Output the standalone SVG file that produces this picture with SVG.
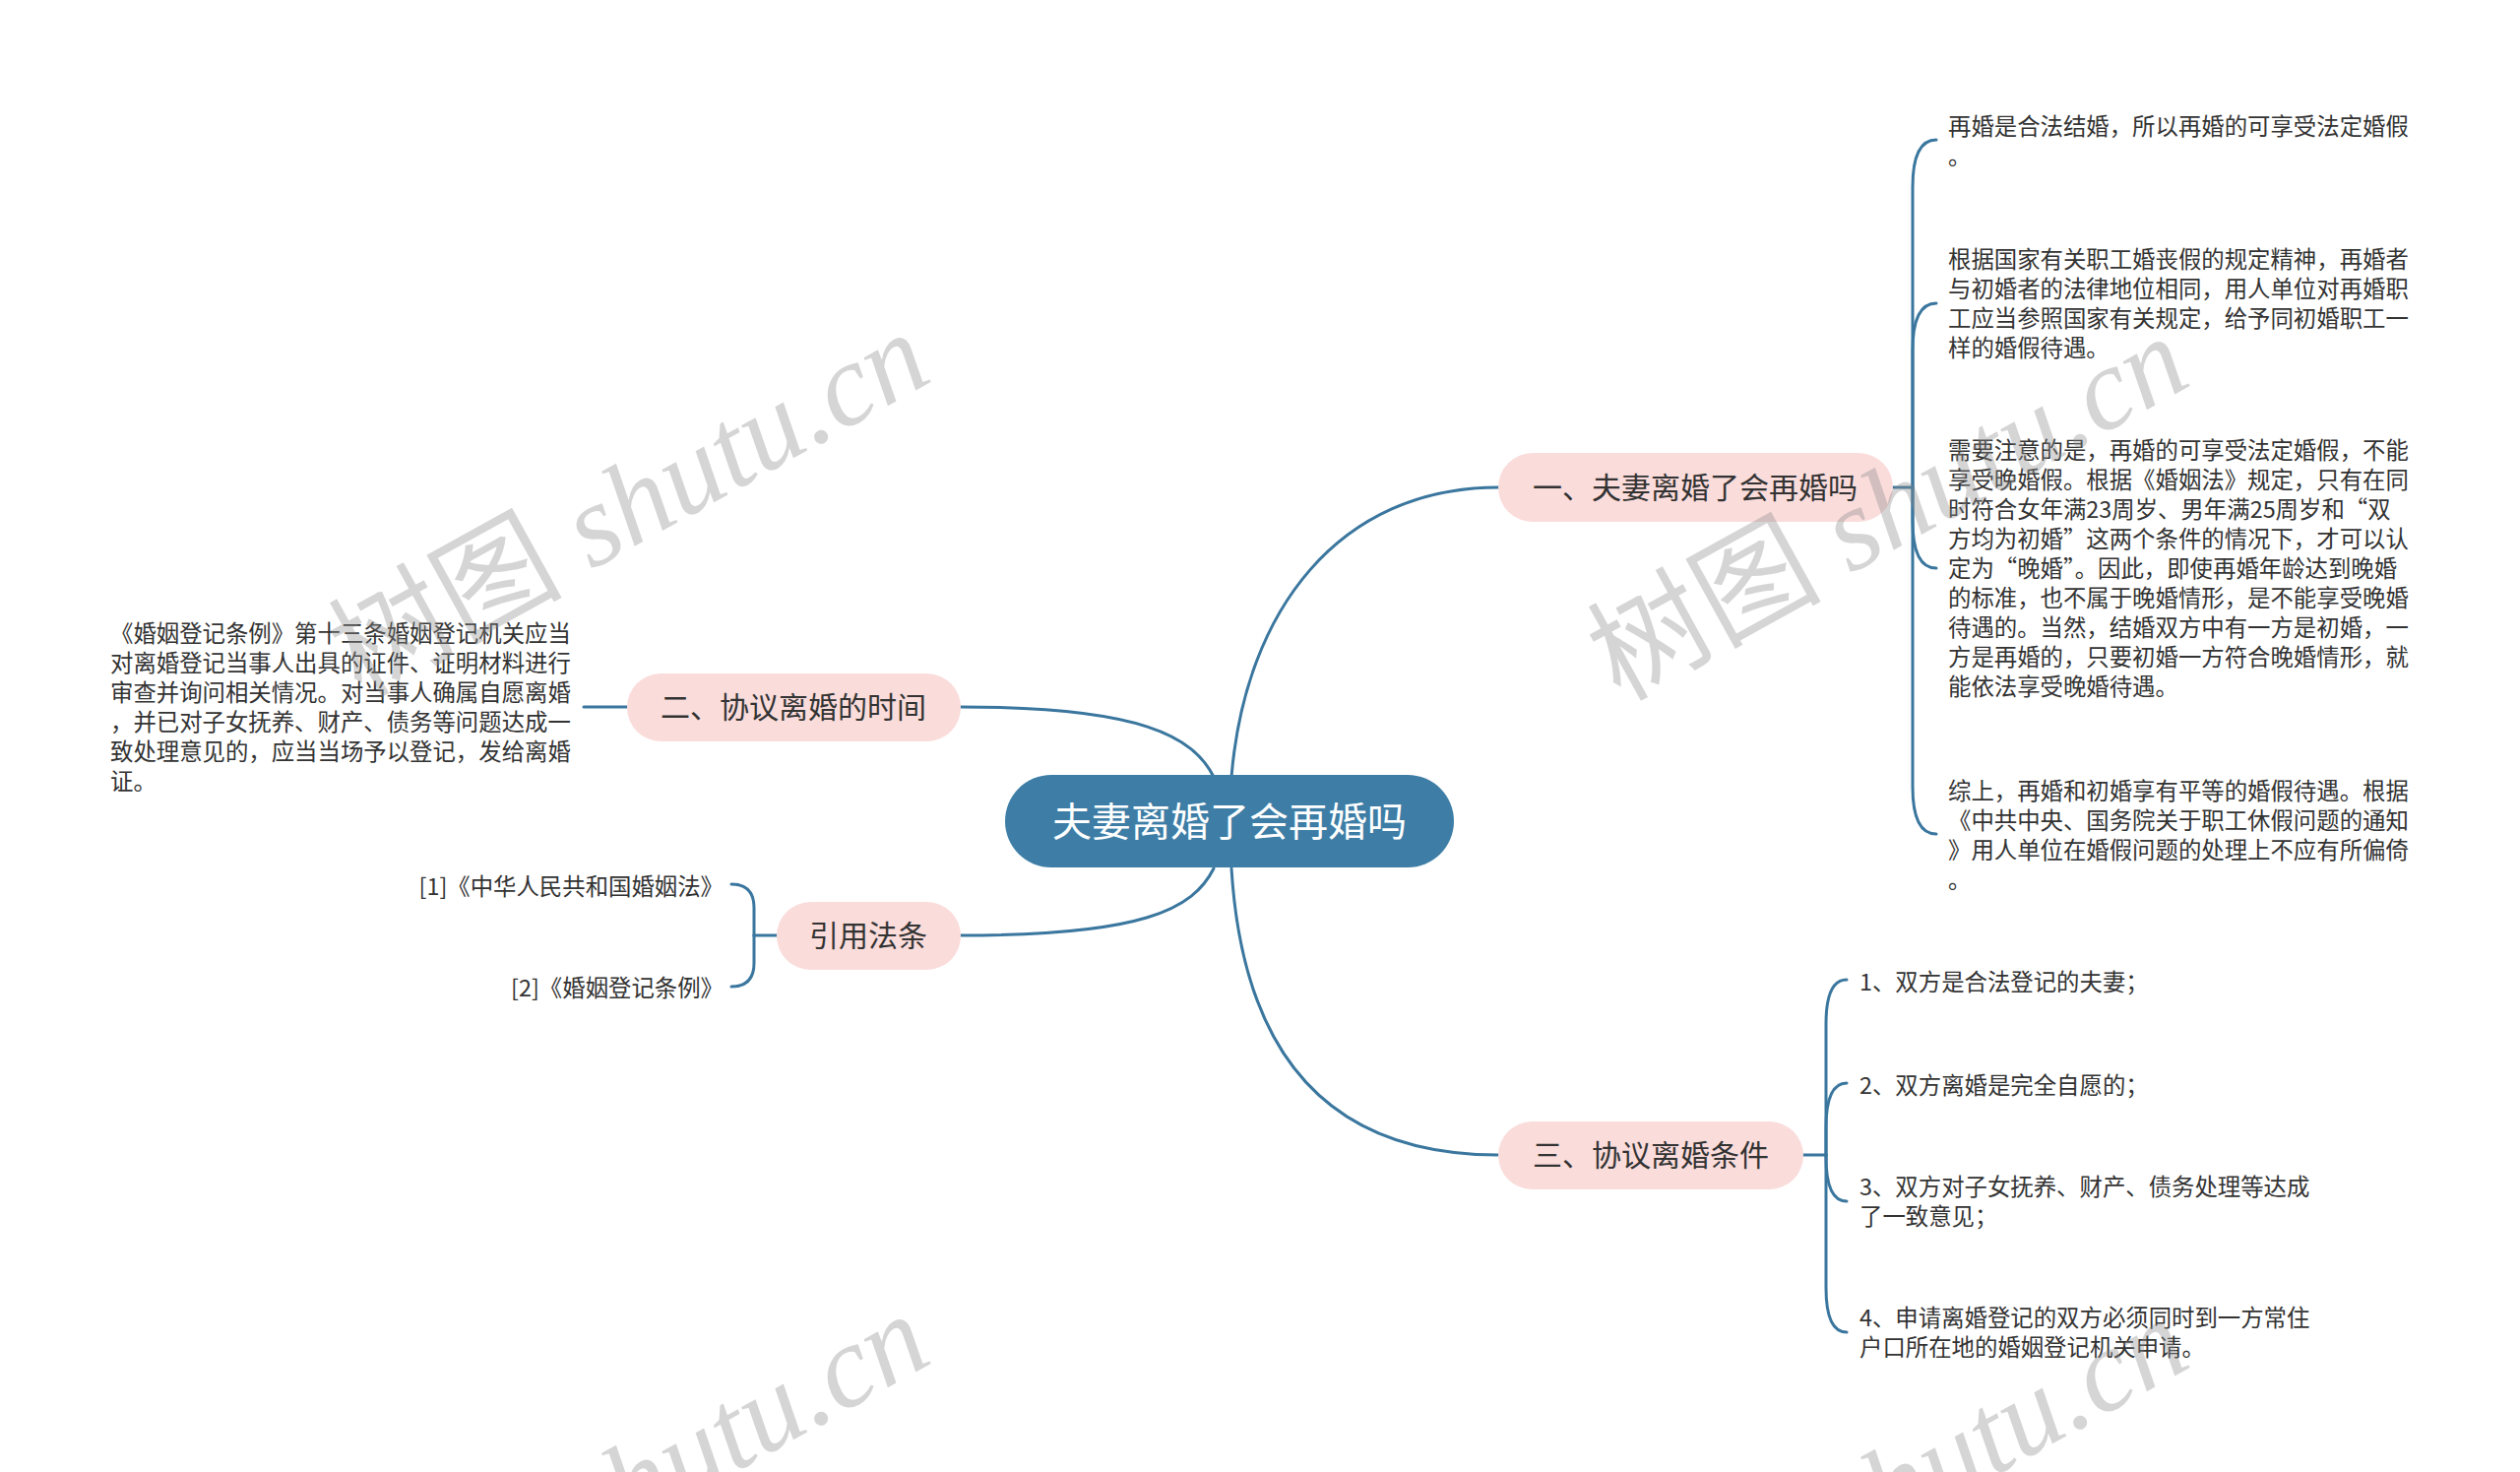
<svg xmlns="http://www.w3.org/2000/svg" width="2560" height="1495" viewBox="0 0 2560 1495">
<style>
.bg{fill:#ffffff}
.link{fill:none;stroke:#3a769e;stroke-width:3;stroke-linecap:round}
.root{fill:#3e7ea6}
.topic{fill:#fadcdb}
.rootT{font-family:"Noto Sans CJK SC","Noto Sans",sans-serif;font-size:40px;fill:#ffffff;text-anchor:middle}
.topT{font-family:"Noto Sans CJK SC","Noto Sans",sans-serif;font-size:30px;fill:#333333;text-anchor:middle}
.leaf{font-family:"Noto Sans CJK SC","Noto Sans",sans-serif;font-size:23.4px;fill:#333333}
.wm{font-family:"Liberation Serif","Noto Sans CJK SC",serif;font-size:119px;fill:#8a8a8a;fill-opacity:0.36;text-anchor:middle}
.wm .cjk{font-family:"Noto Sans CJK SC",serif;font-style:normal}
.wm .lat{font-style:italic}
</style>
<rect class="bg" x="0" y="0" width="2560" height="1495"/>
<g id="connectors">
<path class="link" d="M1251,789 C1265,620 1360,495 1522,495"/>
<path class="link" d="M1233,789 C1212,748 1160,718 976,718"/>
<path class="link" d="M1233,882 C1212,924 1160,950 976,950"/>
<path class="link" d="M1251,882 C1262,1060 1340,1173 1522,1173"/>
<path class="link" d="M1923,495 L1943,495"/>
<path class="link" d="M1943,495 L1943,190 Q1943,142 1967,142"/>
<path class="link" d="M1943,495 L1943,356 Q1943,308 1967,308"/>
<path class="link" d="M1943,495 L1943,529 Q1943,577 1967,577"/>
<path class="link" d="M1943,495 L1943,799 Q1943,847 1967,847"/>
<path class="link" d="M1832,1173 L1855,1173"/>
<path class="link" d="M1855,1173 L1855,1040 Q1855,995 1876,995"/>
<path class="link" d="M1855,1173 L1855,1145 Q1855,1100 1876,1100"/>
<path class="link" d="M1855,1173 L1855,1175 Q1855,1220 1876,1220"/>
<path class="link" d="M1855,1173 L1855,1308 Q1855,1353 1876,1353"/>
<path class="link" d="M593,718 L637,718"/>
<path class="link" d="M789,950 L766,950"/>
<path class="link" d="M766,950 L766,922 Q766,898 743,898"/>
<path class="link" d="M766,950 L766,978 Q766,1002 743,1002"/>
</g>
<g id="root">
<rect class="root" x="1021" y="787" width="456" height="94" rx="47"/>
<text class="rootT" x="1249" y="849">夫妻离婚了会再婚吗</text>
</g>
<g id="topic1">
<rect class="topic" x="1522" y="460" width="401" height="70" rx="35"/>
<text class="topT" x="1722" y="506">一、夫妻离婚了会再婚吗</text>
</g>
<g id="topic2">
<rect class="topic" x="637" y="684" width="339" height="69" rx="34.5"/>
<text class="topT" x="806" y="729">二、协议离婚的时间</text>
</g>
<g id="topic-ref">
<rect class="topic" x="789" y="916" width="187" height="69" rx="34.5"/>
<text class="topT" x="882" y="961">引用法条</text>
</g>
<g id="topic3">
<rect class="topic" x="1522" y="1139" width="310" height="69" rx="34.5"/>
<text class="topT" x="1677" y="1184">三、协议离婚条件</text>
</g>
<g id="leaf1-1">
<text class="leaf" x="1979" y="136.5">再婚是合法结婚，所以再婚的可享受法定婚假</text>
<text class="leaf" x="1979" y="166.5">。</text>
</g>
<g id="leaf1-2">
<text class="leaf" x="1979" y="271.5">根据国家有关职工婚丧假的规定精神，再婚者</text>
<text class="leaf" x="1979" y="301.5">与初婚者的法律地位相同，用人单位对再婚职</text>
<text class="leaf" x="1979" y="331.5">工应当参照国家有关规定，给予同初婚职工一</text>
<text class="leaf" x="1979" y="361.5">样的婚假待遇。</text>
</g>
<g id="leaf1-3">
<text class="leaf" x="1979" y="465.5">需要注意的是，再婚的可享受法定婚假，不能</text>
<text class="leaf" x="1979" y="495.5">享受晚婚假。根据《婚姻法》规定，只有在同</text>
<text class="leaf" x="1979" y="525.5">时符合女年满23周岁、男年满25周岁和“双</text>
<text class="leaf" x="1979" y="555.5">方均为初婚”这两个条件的情况下，才可以认</text>
<text class="leaf" x="1979" y="585.5">定为“晚婚”。因此，即使再婚年龄达到晚婚</text>
<text class="leaf" x="1979" y="615.5">的标准，也不属于晚婚情形，是不能享受晚婚</text>
<text class="leaf" x="1979" y="645.5">待遇的。当然，结婚双方中有一方是初婚，一</text>
<text class="leaf" x="1979" y="675.5">方是再婚的，只要初婚一方符合晚婚情形，就</text>
<text class="leaf" x="1979" y="705.5">能依法享受晚婚待遇。</text>
</g>
<g id="leaf1-4">
<text class="leaf" x="1979" y="811.5">综上，再婚和初婚享有平等的婚假待遇。根据</text>
<text class="leaf" x="1979" y="841.5">《中共中央、国务院关于职工休假问题的通知</text>
<text class="leaf" x="1979" y="871.5">》用人单位在婚假问题的处理上不应有所偏倚</text>
<text class="leaf" x="1979" y="901.5">。</text>
</g>
<g id="leaf2-1">
<text class="leaf" x="112" y="651.5">《婚姻登记条例》第十三条婚姻登记机关应当</text>
<text class="leaf" x="112" y="681.5">对离婚登记当事人出具的证件、证明材料进行</text>
<text class="leaf" x="112" y="711.5">审查并询问相关情况。对当事人确属自愿离婚</text>
<text class="leaf" x="112" y="741.5">，并已对子女抚养、财产、债务等问题达成一</text>
<text class="leaf" x="112" y="771.5">致处理意见的，应当当场予以登记，发给离婚</text>
<text class="leaf" x="112" y="801.5">证。</text>
</g>
<g id="ref-1">
<text class="leaf" x="735" y="908.5" text-anchor="end">[1]《中华人民共和国婚姻法》</text>
</g>
<g id="ref-2">
<text class="leaf" x="735" y="1011.5" text-anchor="end">[2]《婚姻登记条例》</text>
</g>
<g id="leaf3-1">
<text class="leaf" x="1889" y="1005.5">1、双方是合法登记的夫妻；</text>
</g>
<g id="leaf3-2">
<text class="leaf" x="1889" y="1110.5">2、双方离婚是完全自愿的；</text>
</g>
<g id="leaf3-3">
<text class="leaf" x="1889" y="1213.5">3、双方对子女抚养、财产、债务处理等达成</text>
<text class="leaf" x="1889" y="1243.5">了一致意见；</text>
</g>
<g id="leaf3-4">
<text class="leaf" x="1889" y="1346.5">4、申请离婚登记的双方必须同时到一方常住</text>
<text class="leaf" x="1889" y="1376.5">户口所在地的婚姻登记机关申请。</text>
</g>
<g id="watermarks">
<text class="wm" x="640" y="552" transform="rotate(-29 640 514)"><tspan class="cjk">树图</tspan><tspan class="lat"> shutu.cn</tspan></text>
<text class="wm" x="1919" y="556" transform="rotate(-29 1919 518)"><tspan class="cjk">树图</tspan><tspan class="lat"> shutu.cn</tspan></text>
<text class="wm" x="640" y="1549" transform="rotate(-29 640 1511)"><tspan class="cjk">树图</tspan><tspan class="lat"> shutu.cn</tspan></text>
<text class="wm" x="1919" y="1553" transform="rotate(-29 1919 1515)"><tspan class="cjk">树图</tspan><tspan class="lat"> shutu.cn</tspan></text>
</g>
</svg>
